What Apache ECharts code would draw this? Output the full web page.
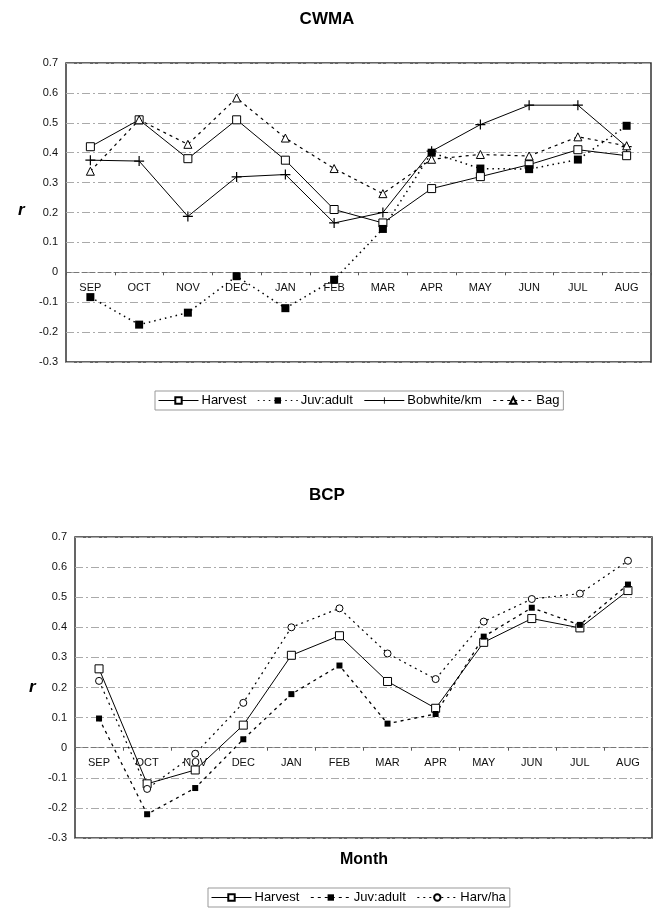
<!DOCTYPE html>
<html>
<head>
<meta charset="utf-8">
<script src="https://cdn.jsdelivr.net/npm/echarts@6/dist/echarts.min.js"></script>
<style>
html,body{margin:0;padding:0;background:#fff;}
#c1,#c2{width:654px;height:457px;}
</style>
</head>
<body>
<div id="c1"></div>
<div id="c2"></div>
<script>
const months = ['SEP','OCT','NOV','DEC','JAN','FEB','MAR','APR','MAY','JUN','JUL','AUG'];
const yTicks = [-0.3,-0.2,-0.1,0,0.1,0.2,0.3,0.4,0.5,0.6,0.7];

// CWMA
const cwmaHarvest  = [0.42, 0.51, 0.38, 0.51, 0.375, 0.21, 0.165, 0.28, 0.32, 0.36, 0.41, 0.39];
const cwmaJuvAdult = [-0.083, -0.175, -0.135, -0.013, -0.12, -0.025, 0.145, 0.40, 0.347, 0.345, 0.377, 0.49];
const cwmaBobwhite = [0.375, 0.372, 0.187, 0.319, 0.327, 0.165, 0.20, 0.405, 0.494, 0.559, 0.559, 0.42];
const cwmaBag      = [0.338, 0.51, 0.428, 0.583, 0.449, 0.347, 0.263, 0.378, 0.394, 0.389, 0.453, 0.423];

// BCP
const bcpHarvest  = [0.262, -0.12, -0.074, 0.075, 0.307, 0.372, 0.22, 0.131, 0.35, 0.429, 0.398, 0.522];
const bcpJuvAdult = [0.097, -0.221, -0.134, 0.028, 0.178, 0.273, 0.08, 0.112, 0.369, 0.465, 0.408, 0.542];
const bcpHarvHa   = [0.222, -0.137, -0.02, 0.149, 0.40, 0.463, 0.313, 0.228, 0.419, 0.494, 0.512, 0.621];

const FONT = '"Liberation Sans", Arial, sans-serif';
const plusPath = 'path://M4.4,0h1.2v4.4h4.4v1.2h-4.4v4.4h-1.2v-4.4h-4.4v-1.2h4.4z';
const yMin = yTicks[0], yMax = yTicks[yTicks.length - 1];

function axes(grid) {
  // x axis drawn at the zero line (offset from the bottom of the plot)
  const zeroOffset = -grid.height * (0 - yMin) / (yMax - yMin);
  return {
    grid: grid,
    xAxis: {
      type: 'category', data: months, boundaryGap: true, position: 'bottom', offset: zeroOffset,
      axisLine: { onZero: false, lineStyle: { color: '#777', width: 1, type: [5, 3] } },
      axisTick: { show: true, length: 3, lineStyle: { color: '#555' } },
      axisLabel: { color: '#111', fontSize: 11, fontFamily: FONT, margin: 10 },
      splitLine: { show: false }
    },
    yAxis: {
      type: 'value', min: yMin, max: yMax, interval: 0.1,
      axisLine: { show: false }, axisTick: { show: false },
      axisLabel: { color: '#111', fontSize: 11, fontFamily: FONT, margin: 8,
        formatter: v => String(+v.toFixed(1)) },
      splitLine: { show: true, lineStyle: { color: '#aaa', width: 1, type: [8, 3, 2, 3] } }
    }
  };
}

function lineSeries(name, data, opts) {
  return Object.assign({
    name: name, type: 'line', data: data,
    symbolSize: 7, showSymbol: true, animation: false, z: 3,
    lineStyle: { color: '#000', width: 1 },
    itemStyle: { color: '#fff', borderColor: '#000', borderWidth: 1 }
  }, opts);
}

const legendCommon = {
  orient: 'horizontal', itemWidth: 40, itemHeight: 8, itemGap: 11,
  lineStyle: { width: 1 },
  textStyle: { fontSize: 13, fontFamily: FONT, color: '#000', padding: [0, 0, 0, -2] },
  borderColor: '#999', borderWidth: 1, padding: [3, 4, 3, 3], selectedMode: false
};

const c1 = echarts.init(document.getElementById('c1'), null, { renderer: 'canvas' });
const a1 = axes({ left: 66, right: 3, top: 63, height: 299, show: true, borderColor: '#333', borderWidth: 1.5, backgroundColor: 'transparent' });
c1.setOption(Object.assign(a1, {
  animation: false,
  title: { text: 'CWMA', left: 'center', top: 6, textStyle: { fontSize: 17, fontWeight: 'bold', fontFamily: FONT, color: '#000' } },
  legend: Object.assign({}, legendCommon, { left: 155, top: 391, data: ['Harvest', 'Juv:adult', 'Bobwhite/km', 'Bag'] }),
  graphic: [{ type: 'text', left: 18, top: 202, style: { text: 'r', font: 'italic bold 17px ' + FONT, fill: '#000' } }],
  series: [
    lineSeries('Harvest', cwmaHarvest, { symbol: 'rect', symbolSize: 8 }),
    lineSeries('Juv:adult', cwmaJuvAdult, { symbol: 'rect', symbolSize: 8,
      lineStyle: { color: '#000', width: 1.5, type: [1.5, 4] },
      itemStyle: { color: '#000', borderColor: '#000', borderWidth: 0 } }),
    lineSeries('Bobwhite/km', cwmaBobwhite, { symbol: plusPath, symbolSize: 10,
      itemStyle: { color: '#000', borderWidth: 0 } }),
    lineSeries('Bag', cwmaBag, { symbol: 'triangle', symbolSize: 8,
      lineStyle: { color: '#000', width: 1.2, type: [3, 4] } })
  ]
}));

const c2 = echarts.init(document.getElementById('c2'), null, { renderer: 'canvas' });
const a2 = axes({ left: 75, right: 2, top: 80, height: 301, show: true, borderColor: '#333', borderWidth: 1.5, backgroundColor: 'transparent' });
c2.setOption(Object.assign(a2, {
  animation: false,
  title: { text: 'BCP', left: 'center', top: 25, textStyle: { fontSize: 17, fontWeight: 'bold', fontFamily: FONT, color: '#000' } },
  legend: Object.assign({}, legendCommon, { left: 208, top: 431, data: ['Harvest', 'Juv:adult', 'Harv/ha'] }),
  graphic: [
    { type: 'text', left: 29, top: 222, style: { text: 'r', font: 'italic bold 17px ' + FONT, fill: '#000' } },
    { type: 'text', left: 340, top: 395, style: { text: 'Month', font: 'bold 16px ' + FONT, fill: '#000' } }
  ],
  series: [
    lineSeries('Harvest', bcpHarvest, { symbol: 'rect', symbolSize: 8 }),
    lineSeries('Juv:adult', bcpJuvAdult, { symbol: 'rect', symbolSize: 6,
      lineStyle: { color: '#000', width: 1.3, type: [3, 4] },
      itemStyle: { color: '#000', borderColor: '#000', borderWidth: 0 } }),
    lineSeries('Harv/ha', bcpHarvHa, { symbol: 'circle', symbolSize: 7,
      lineStyle: { color: '#000', width: 1.2, type: [2, 4] } })
  ]
}));
</script>
</body>
</html>
